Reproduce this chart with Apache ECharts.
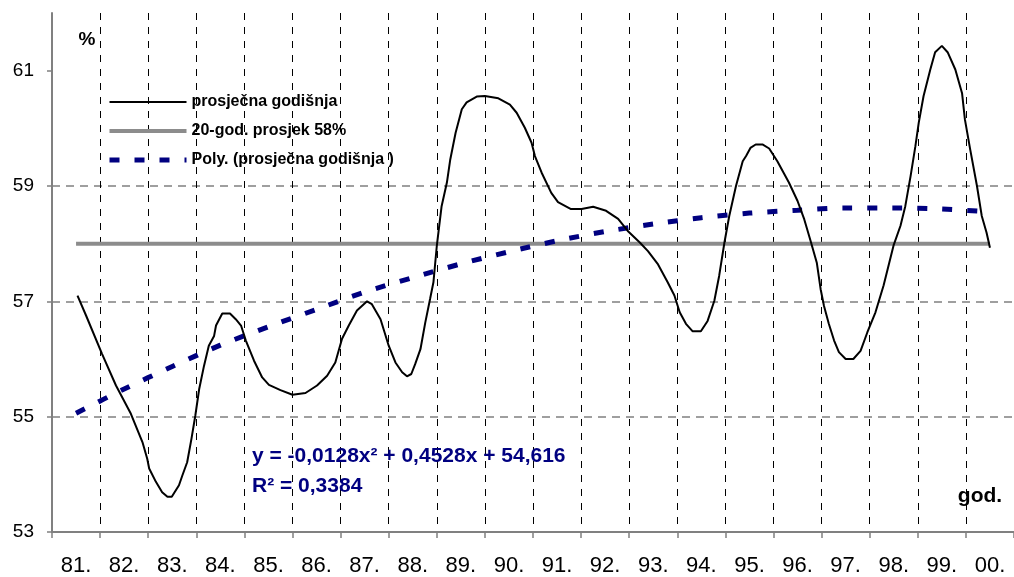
<!DOCTYPE html>
<html><head><meta charset="utf-8">
<script src="https://cdn.jsdelivr.net/npm/echarts@6/dist/echarts.min.js"></script>
<style>html,body{margin:0;padding:0;background:#fff}#c{width:1014px;height:577px}</style>
</head><body><div id="c"></div>
<script>
// ---- data ----
const years = ['81.','82.','83.','84.','85.','86.','87.','88.','89.','90.','91.','92.','93.','94.','95.','96.','97.','98.','99.','00.'];
const yTicks = [53, 55, 57, 59, 61];
const meanValue = 58;
// black curve: time in years since start of 1981, value in %
const curveX = [0.53,0.71,1.04,1.33,1.64,1.88,1.98,2.02,2.16,2.29,
  2.40,2.49,2.64,2.71,2.81,2.90,2.98,3.06,3.16,3.26,
  3.37,3.41,3.54,3.70,3.82,3.93,4.03,4.20,4.37,4.51,
  4.75,5.00,5.27,5.51,5.72,5.89,6.03,6.17,6.34,6.55,
  6.65,6.83,7.00,7.14,7.28,7.38,7.47,7.55,7.66,7.76,
  7.86,7.93,8.00,8.10,8.21,8.28,8.39,8.52,8.62,8.83,
  9.00,9.28,9.52,9.66,9.83,9.97,10.04,10.18,10.38,10.52,
  10.79,11.01,11.25,11.52,11.77,11.97,12.22,12.39,12.60,12.80,
  12.94,13.05,13.18,13.32,13.49,13.63,13.77,13.87,13.98,14.08,
  14.22,14.36,14.43,14.52,14.63,14.77,14.91,15.08,15.32,15.50,
  15.64,15.77,15.90,15.98,16.05,16.15,16.26,16.36,16.50,16.66,
  16.81,16.95,17.12,17.29,17.50,17.64,17.74,17.85,17.95,18.02,
  18.12,18.26,18.36,18.50,18.62,18.78,18.92,18.98,19.09,19.23,
  19.33,19.43,19.50];
const curveY = [57.10,56.75,56.09,55.54,55.05,54.56,54.27,54.10,53.87,53.69,
  53.61,53.61,53.81,53.98,54.21,54.62,55.02,55.48,55.88,56.23,
  56.40,56.58,56.79,56.79,56.69,56.58,56.32,55.97,55.68,55.55,
  55.46,55.38,55.41,55.54,55.71,55.94,56.35,56.58,56.84,57.00,
  56.95,56.69,56.23,55.94,55.77,55.70,55.74,55.91,56.17,56.63,
  57.04,57.33,57.96,58.65,59.06,59.46,59.92,60.33,60.45,60.55,
  60.56,60.52,60.41,60.27,60.01,59.75,59.52,59.23,58.88,58.72,
  58.60,58.60,58.64,58.57,58.43,58.22,58.02,57.87,57.64,57.33,
  57.10,56.81,56.61,56.48,56.48,56.66,57.01,57.44,58.02,58.48,
  59.00,59.43,59.52,59.66,59.72,59.72,59.65,59.43,59.06,58.74,
  58.42,58.05,57.67,57.21,56.92,56.61,56.32,56.12,56.00,56.00,
  56.14,56.46,56.81,57.28,57.98,58.31,58.65,59.17,59.69,60.10,
  60.56,61.02,61.32,61.43,61.32,61.02,60.61,60.15,59.63,59.00,
  58.48,58.19,57.93];
// polynomial trend, one value per year (read at year centres)
const trendY = [55.06,55.48,55.87,56.24,56.56,56.86,57.16,57.41,57.65,57.86,
  58.05,58.21,58.34,58.45,58.53,58.58,58.62,58.62,58.60,58.55];
const seriesNames = ['prosječna godišnja', '20-god. prosjek 58%', 'Poly. (prosječna godišnja )'];
const eqText = 'y = -0,0128x² + 0,4528x + 54,616';
const r2Text = 'R² = 0,3384';

// ---- build ----
const curveData = curveX.map((x, i) => [x, curveY[i]]);
const trendData = trendY.map((v, i) => [i + 0.5, v]);
const meanData = [[0.5, meanValue], [years.length - 0.5, meanValue]];

const FONT = "'Liberation Sans', Arial, sans-serif";
const styles = {
  curve: {color: '#000', width: 2, type: 'solid'},
  mean: {color: '#8c8c8c', width: 4, type: 'solid'},
  trend: {color: '#000080', width: 5, type: [10, 15], cap: 'butt'}
};
const chart = echarts.init(document.getElementById('c'), null, {renderer: 'canvas'});
chart.setOption({
  animation: false,
  backgroundColor: '#fff',
  textStyle: {fontFamily: FONT},
  grid: {left: 52, right: -3, top: 13, bottom: 44},
  legend: {
    orient: 'vertical', left: 107, top: 94, padding: 0,
    itemWidth: 77, itemHeight: 16, itemGap: 13,
    itemStyle: {opacity: 0, borderWidth: 0},
    textStyle: {fontSize: 16, fontWeight: 'bold', color: '#000', fontFamily: FONT},
    data: [
      {name: seriesNames[0], lineStyle: styles.curve},
      {name: seriesNames[1], lineStyle: styles.mean},
      {name: seriesNames[2], lineStyle: styles.trend}
    ]
  },
  xAxis: [
    {
      type: 'category', data: years, boundaryGap: true,
      axisLine: {lineStyle: {color: '#808080', width: 2}},
      axisTick: {show: true, length: 6, lineStyle: {color: '#808080', width: 1.5}},
      axisLabel: {fontSize: 22, color: '#000', margin: 23, fontFamily: FONT},
      splitLine: {show: true, lineStyle: {color: '#000', type: [7, 7], width: 1}}
    },
    {type: 'value', min: 0, max: years.length, show: false}
  ],
  yAxis: {
    type: 'value', min: 53, max: 62, interval: 2,
    axisLine: {show: true, lineStyle: {color: '#808080', width: 2}},
    axisTick: {show: true, length: 5, customValues: yTicks, lineStyle: {color: '#808080', width: 1.5}},
    axisLabel: {customValues: yTicks, fontSize: 19, color: '#000', margin: 18, fontFamily: FONT},
    splitLine: {show: true, showMaxLine: false, lineStyle: {color: '#808080', type: [8, 6], width: 1.5}}
  },
  series: [
    {name: seriesNames[1], type: 'line', xAxisIndex: 1, data: meanData, symbol: 'none',
     lineStyle: styles.mean, itemStyle: {color: styles.mean.color}, z: 2},
    {name: seriesNames[2], type: 'line', xAxisIndex: 1, data: trendData, symbol: 'none', smooth: 0.3,
     lineStyle: styles.trend, itemStyle: {color: styles.trend.color}, z: 3},
    {name: seriesNames[0], type: 'line', xAxisIndex: 1, data: curveData, symbol: 'none',
     lineStyle: styles.curve, itemStyle: {color: styles.curve.color}, z: 4}
  ],
  graphic: [
    {type: 'text', z: 10, style: {text: '%', x: 87, y: 40, align: 'center', verticalAlign: 'middle', font: 'bold 19px ' + FONT, fill: '#000'}},
    {type: 'text', z: 10, style: {text: 'god.', x: 980, y: 496, align: 'center', verticalAlign: 'middle', font: 'bold 21px ' + FONT, fill: '#000'}},
    {type: 'text', z: 10, style: {text: eqText, x: 252, y: 456, align: 'left', verticalAlign: 'middle', font: 'bold 21px ' + FONT, fill: '#000080'}},
    {type: 'text', z: 10, style: {text: r2Text, x: 252, y: 486, align: 'left', verticalAlign: 'middle', font: 'bold 21px ' + FONT, fill: '#000080'}}
  ]
});
</script>
</body></html>
